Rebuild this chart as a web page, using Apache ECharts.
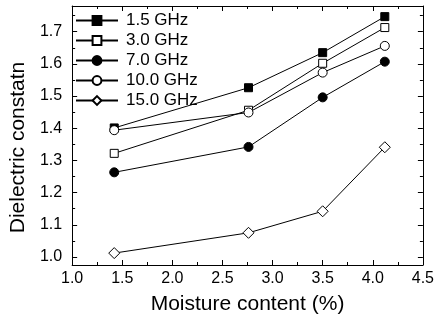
<!DOCTYPE html>
<html>
<head>
<meta charset="utf-8">
<script src="https://cdn.jsdelivr.net/npm/echarts@6/dist/echarts.min.js"></script>
<style>
  html, body { margin: 0; padding: 0; background: #fff; }
  #chart-container { width: 437px; height: 322px; }
</style>
</head>
<body>
<div id="chart-container"></div>
<script>
// Moisture content (%) on the x axis
const moisture = [1.42, 2.76, 3.50, 4.12];

// Dielectric constant for each frequency
const ghz1_5 = [1.401, 1.526, 1.635, 1.747];
const ghz3_0 = [1.322, 1.456, 1.602, 1.713];
const ghz7_0 = [1.263, 1.342, 1.496, 1.607];
const ghz10_0 = [1.394, 1.449, 1.573, 1.656];
const ghz15_0 = [1.012, 1.075, 1.142, 1.341];

const seriesNames = ['1.5 GHz', '3.0 GHz', '7.0 GHz', '10.0 GHz', '15.0 GHz'];

// Tick values on the y axis
const yMajorTicks = [1.0, 1.1, 1.2, 1.3, 1.4, 1.5, 1.6, 1.7];
const yMinorTicks = [1.05, 1.15, 1.25, 1.35, 1.45, 1.55, 1.65, 1.75];

const container = echarts.init(document.getElementById('chart-container'));

const pairUp = (ys) => moisture.map((x, i) => [x, ys[i]]);

const makeSeries = (name, ys, symbol, size, fill) => ({
    name: name,
    type: 'line',
    data: pairUp(ys),
    symbol: symbol,
    symbolSize: size,
    showSymbol: true,
    lineStyle: { color: '#000', width: 1 },
    itemStyle: { color: fill, borderColor: '#000', borderWidth: 1 },
    emphasis: { disabled: true },
    z: 3
});

const font = 'Liberation Sans, Arial, sans-serif';

const yRange = { min: 0.975, max: 1.78 };

// Shared bits of the frame axes
const plainLine = { show: true, onZero: false, lineStyle: { color: '#000', width: 1 } };

const cfg = {
    animation: false,
    grid: { left: 67, right: 12, top: 6, bottom: 57 },
    legend: {
        left: 75,
        top: 12,
        padding: 0,
        orient: 'vertical',
        itemWidth: 42,
        itemHeight: 11,
        itemGap: 3,
        data: seriesNames,
        textStyle: { fontFamily: font, fontSize: 17, color: '#000', lineHeight: 16, padding: [0, 0, 0, 3] }
    },
    xAxis: [{
        type: 'value',
        min: 1, max: 4.5, interval: 0.5,
        name: 'Moisture content (%)',
        nameLocation: 'middle',
        nameGap: 29,
        nameTextStyle: { fontFamily: font, fontSize: 21, color: '#000' },
        axisLine: plainLine,
        axisTick: { show: true, inside: true, length: 5, lineStyle: { color: '#000' } },
        minorTick: { show: true, splitNumber: 2, length: 3, lineStyle: { color: '#000' } },
        axisLabel: {
            fontFamily: font, fontSize: 16, color: '#000', margin: 6,
            formatter: (v) => v.toFixed(1)
        },
        splitLine: { show: false }
    }, {
        type: 'value',
        position: 'top',
        min: 1, max: 4.5, interval: 0.5,
        axisLine: plainLine,
        axisTick: { show: true, inside: true, length: 5, lineStyle: { color: '#000' } },
        minorTick: { show: true, splitNumber: 2, length: 3, lineStyle: { color: '#000' } },
        axisLabel: { show: false },
        splitLine: { show: false }
    }],
    yAxis: [{
        type: 'value',
        min: yRange.min, max: yRange.max,
        name: 'Dielectric constatn',
        nameLocation: 'middle',
        nameGap: 38,
        nameTextStyle: { fontFamily: font, fontSize: 21, color: '#000', padding: [0, 24, 0, 0] },
        axisLine: plainLine,
        axisTick: { show: true, inside: true, length: 5, customValues: yMajorTicks, lineStyle: { color: '#000' } },
        axisLabel: {
            fontFamily: font, fontSize: 16, color: '#000', margin: 10,
            customValues: yMajorTicks,
            formatter: (v) => v.toFixed(1)
        },
        splitLine: { show: false }
    }, {
        // minor ticks on the left
        type: 'value',
        position: 'left',
        min: yRange.min, max: yRange.max,
        axisLine: { show: false },
        axisTick: { show: true, inside: true, length: 3, customValues: yMinorTicks, lineStyle: { color: '#000' } },
        axisLabel: { show: false },
        splitLine: { show: false }
    }, {
        type: 'value',
        position: 'right',
        min: yRange.min, max: yRange.max,
        axisLine: plainLine,
        axisTick: { show: true, inside: true, length: 5, customValues: yMajorTicks, lineStyle: { color: '#000' } },
        axisLabel: { show: false },
        splitLine: { show: false }
    }, {
        // minor ticks on the right
        type: 'value',
        position: 'right',
        min: yRange.min, max: yRange.max,
        axisLine: { show: false },
        axisTick: { show: true, inside: true, length: 3, customValues: yMinorTicks, lineStyle: { color: '#000' } },
        axisLabel: { show: false },
        splitLine: { show: false }
    }],
    series: [
        makeSeries(seriesNames[0], ghz1_5, 'rect', 8, '#000'),
        makeSeries(seriesNames[1], ghz3_0, 'rect', 8, '#fff'),
        makeSeries(seriesNames[2], ghz7_0, 'circle', 9, '#000'),
        makeSeries(seriesNames[3], ghz10_0, 'circle', 9, '#fff'),
        makeSeries(seriesNames[4], ghz15_0, 'diamond', 11, '#fff')
    ]
};

container.setOption(cfg);
</script>
</body>
</html>
